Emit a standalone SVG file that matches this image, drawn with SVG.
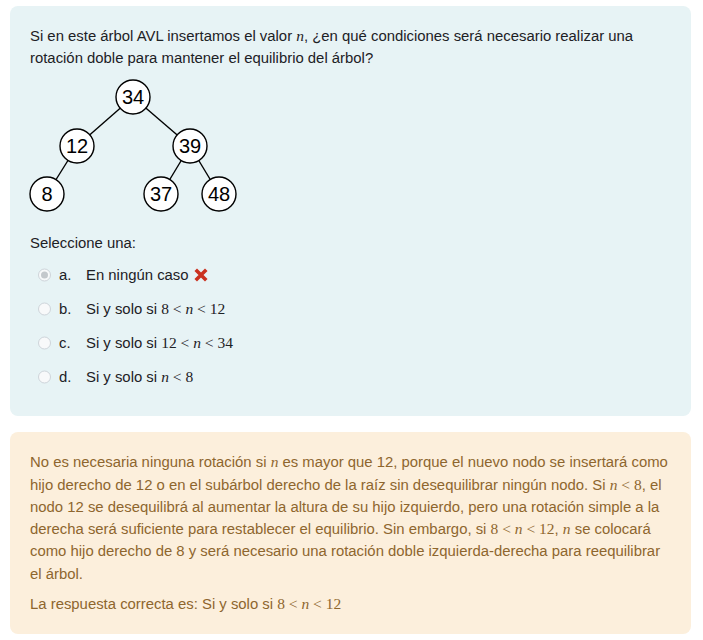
<svg xmlns="http://www.w3.org/2000/svg" width="703" height="640" viewBox="0 0 703 640">
<style>
.t{font-family:"Liberation Sans",Arial,sans-serif;font-size:14.88px;fill:#1d2125}
.f{font-family:"Liberation Sans",Arial,sans-serif;font-size:14.88px;fill:#8e662e}
.m{font-family:"Liberation Serif","Times New Roman",serif;font-size:15.5px}
.i{font-style:italic}
.nc{fill:#fff;stroke:#000;stroke-width:1.4}
.nt{font-family:"Liberation Sans",Arial,sans-serif;font-size:20px;fill:#000;text-anchor:middle}
.edge{stroke:#000;stroke-width:1.4}
.radio{fill:#f8f9fa;stroke:#ced4da;stroke-width:1}
</style>
<rect width="703" height="640" fill="#fff"/>
<rect x="10" y="6" width="681" height="410" rx="8" fill="#e7f3f5"/>
<rect x="10" y="432" width="681" height="202" rx="8" fill="#fcefdc"/>
<text class="t" x="30" y="41">Si en este árbol AVL insertamos el valor <tspan class="m i">n</tspan>, ¿en qué condiciones será necesario realizar una</text>
<text class="t" x="30" y="63">rotación doble para mantener el equilibrio del árbol?</text>
<g id="connectors">
<line class="edge" x1="133" y1="97" x2="77" y2="146"/>
<line class="edge" x1="133" y1="97" x2="190" y2="146"/>
<line class="edge" x1="77" y1="146" x2="47" y2="194"/>
<line class="edge" x1="190" y1="146" x2="161" y2="194"/>
<line class="edge" x1="190" y1="146" x2="219" y2="194"/>
</g>
<g id="n34"><circle cx="133" cy="97" r="17" class="nc"/><text class="nt" x="133" y="104">34</text></g>
<g id="n12"><circle cx="77" cy="146" r="17" class="nc"/><text class="nt" x="77" y="153">12</text></g>
<g id="n39"><circle cx="190" cy="146" r="17" class="nc"/><text class="nt" x="190" y="153">39</text></g>
<g id="n8"><circle cx="47" cy="194" r="17" class="nc"/><text class="nt" x="47" y="201">8</text></g>
<g id="n37"><circle cx="161" cy="194" r="17" class="nc"/><text class="nt" x="161" y="201">37</text></g>
<g id="n48"><circle cx="219" cy="194" r="17" class="nc"/><text class="nt" x="219" y="201">48</text></g>
<text class="t" x="30" y="248">Seleccione una:</text>
<g id="optA">
<circle class="radio" cx="44.5" cy="275" r="6"/><circle cx="44.5" cy="275" r="3.5" fill="#c4c8cc"/>
<text class="t" x="59" y="280">a.</text>
<text class="t" x="86" y="280">En ningún caso</text>
<path d="M197 271 L205 279 M205 271 L197 279" stroke="#ca3120" stroke-width="3.6" stroke-linecap="square"/>
</g>
<g id="optB">
<circle class="radio" cx="44.5" cy="309" r="6"/>
<text class="t" x="59" y="314">b.</text>
<text class="t" x="86" y="314">Si y solo si <tspan class="m">8 &lt; </tspan><tspan class="m i">n</tspan><tspan class="m"> &lt; 12</tspan></text>
</g>
<g id="optC">
<circle class="radio" cx="44.5" cy="343" r="6"/>
<text class="t" x="59" y="348">c.</text>
<text class="t" x="86" y="348">Si y solo si <tspan class="m">12 &lt; </tspan><tspan class="m i">n</tspan><tspan class="m"> &lt; 34</tspan></text>
</g>
<g id="optD">
<circle class="radio" cx="44.5" cy="377" r="6"/>
<text class="t" x="59" y="382">d.</text>
<text class="t" x="86" y="382">Si y solo si <tspan class="m i">n</tspan><tspan class="m"> &lt; 8</tspan></text>
</g>
<g id="feedback">
<text class="f" x="30" y="467">No es necesaria ninguna rotación si <tspan class="m i">n</tspan> es mayor que 12, porque el nuevo nodo se insertará como</text>
<text class="f" x="30" y="490">hijo derecho de 12 o en el subárbol derecho de la raíz sin desequilibrar ningún nodo. Si <tspan class="m i">n</tspan><tspan class="m"> &lt; 8</tspan>, el</text>
<text class="f" x="30" y="512">nodo 12 se desequilibrá al aumentar la altura de su hijo izquierdo, pero una rotación simple a la</text>
<text class="f" x="30" y="534">derecha será suficiente para restablecer el equilibrio. Sin embargo, si <tspan class="m">8 &lt; </tspan><tspan class="m i">n</tspan><tspan class="m"> &lt; 12</tspan>, <tspan class="m i">n</tspan> se colocará</text>
<text class="f" x="30" y="556">como hijo derecho de 8 y será necesario una rotación doble izquierda-derecha para reequilibrar</text>
<text class="f" x="30" y="579">el árbol.</text>
<text class="f" x="30" y="609">La respuesta correcta es: Si y solo si <tspan class="m">8 &lt; </tspan><tspan class="m i">n</tspan><tspan class="m"> &lt; 12</tspan></text>
</g>
</svg>
